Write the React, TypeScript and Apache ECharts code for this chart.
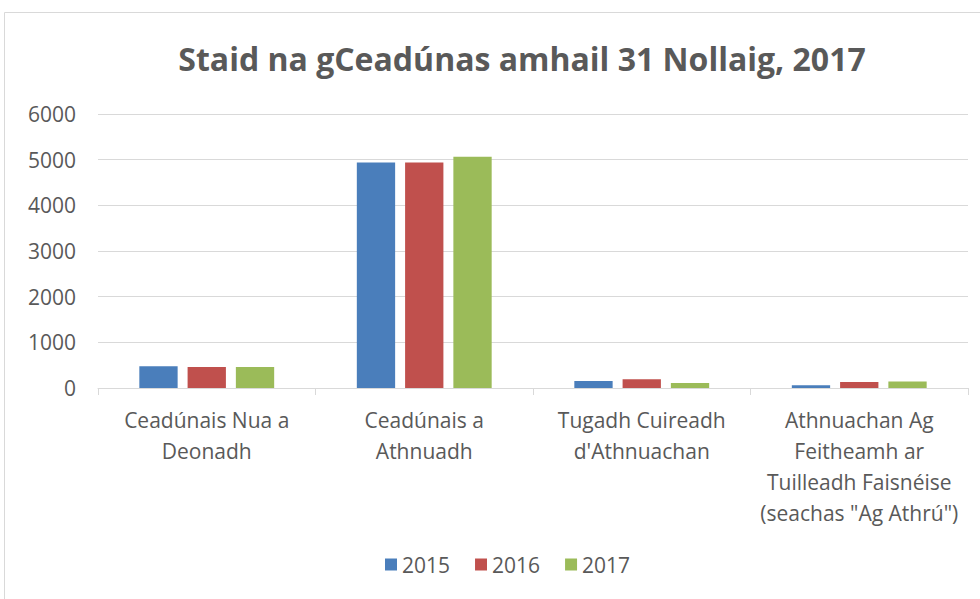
import React, { useEffect, useRef } from "react";
import * as echarts from "echarts";

const categories = [
  "Ceadúnais Nua a\nDeonadh",
  "Ceadúnais a\nAthnuadh",
  "Tugadh Cuireadh\nd'Athnuachan",
  "Athnuachan Ag\nFeitheamh ar\nTuilleadh Faisnéise\n(seachas \"Ag Athrú\")",
];
const seriesNames = ["2015", "2016", "2017"];
const values2015 = [475, 4940, 155, 60];
const values2016 = [460, 4940, 190, 130];
const values2017 = [460, 5065, 110, 145];
const colors = ["#4a7ebb", "#c0504d", "#9bbb59"];
const yTicks = { min: 0, max: 6000, interval: 1000 };

export default function App() {
  const ref = useRef<HTMLDivElement>(null);
  useEffect(() => {
    const chart = echarts.init(ref.current!, null, { renderer: "svg" });
    const font = "'Open Sans', sans-serif";
    const data = [values2015, values2016, values2017];
    chart.setOption({
      animation: false,
      backgroundColor: "#ffffff",
      textStyle: { fontFamily: font },
      graphic: [
        {
          type: "rect",
          shape: { x: 4.5, y: 12.5, width: 1000, height: 700 },
          style: { fill: "none", stroke: "#d9d9d9", lineWidth: 1 },
          silent: true,
          z: -1,
        },
      ],
      title: {
        text: "Staid na gCeadúnas amhail 31 Nollaig, 2017",
        left: 517,
        textAlign: "center",
        top: 37,
        textStyle: { fontFamily: font, fontSize: 32, fontWeight: "bold", color: "#595959" },
      },
      legend: {
        data: seriesNames,
        bottom: 19,
        left: 380,
        itemWidth: 12,
        itemHeight: 12,
        itemGap: 25,
        icon: "rect",
        textStyle: { fontFamily: font, fontSize: 21, color: "#595959" },
      },
      grid: { left: 98, right: 12, top: 114, bottom: 211, containLabel: false },
      xAxis: {
        type: "category",
        data: categories,
        axisLine: { lineStyle: { color: "#d9d9d9", width: 1 } },
        axisTick: { show: true, length: 7, lineStyle: { color: "#d9d9d9" } },
        axisLabel: {
          interval: 0,
          fontFamily: font,
          fontSize: 21,
          color: "#595959",
          lineHeight: 31,
          margin: 16,
        },
      },
      yAxis: {
        type: "value",
        min: yTicks.min,
        max: yTicks.max,
        interval: yTicks.interval,
        axisLine: { show: false },
        axisTick: { show: false },
        splitLine: { lineStyle: { color: "#d9d9d9", width: 1 } },
        axisLabel: {
          fontFamily: font,
          fontSize: 21,
          color: "#595959",
          margin: 22,
          formatter: (v: number) => String(v),
        },
      },
      series: seriesNames.map((name, i) => ({
        name,
        type: "bar",
        data: data[i],
        barGap: "26%",
        barCategoryGap: "38%",
        itemStyle: { color: colors[i] },
      })),
    });
    return () => chart.dispose();
  }, []);
  return (
    <div
      ref={ref}
      style={{ position: "fixed", left: 0, top: 0, width: 980, height: 599 }}
    />
  );
}
